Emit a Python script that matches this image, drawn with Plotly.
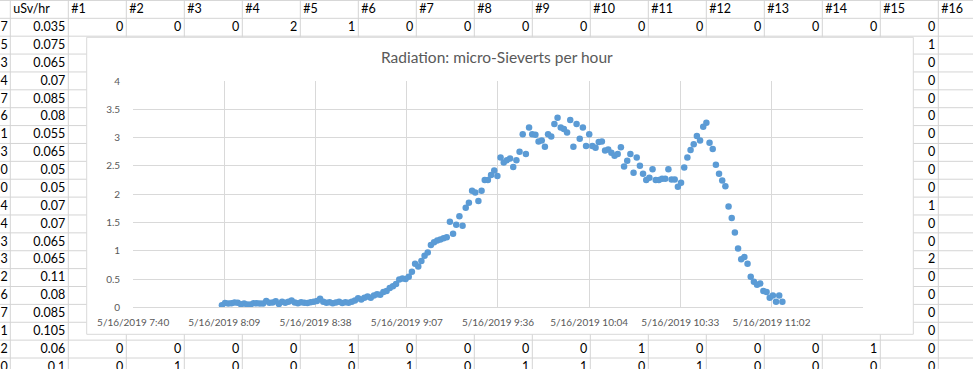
import plotly.graph_objects as go
import pandas as pd

# ---------------- chart data ----------------
usv_per_hour = [
    0.035, 0.075, 0.065, 0.07, 0.085, 0.08, 0.055, 0.065, 0.05, 0.05,
    0.07, 0.07, 0.065, 0.065, 0.11, 0.08, 0.085, 0.105, 0.06, 0.1,
    0.08, 0.1, 0.12, 0.085, 0.07, 0.09, 0.08, 0.075, 0.09, 0.1,
    0.11, 0.15, 0.1, 0.08, 0.09, 0.07, 0.085, 0.1, 0.075, 0.09,
    0.08, 0.1, 0.12, 0.16, 0.14, 0.17, 0.19, 0.17, 0.21, 0.23,
    0.22, 0.27, 0.29, 0.34, 0.37, 0.41, 0.49, 0.51, 0.5, 0.54, 0.63,
    0.77, 0.72, 0.82, 0.91, 0.97, 1.10, 1.15, 1.18, 1.20, 1.22,
    1.24, 1.51, 1.30, 1.46, 1.61, 1.44, 1.76, 1.85, 2.06, 2.03,
    1.88, 2.06, 2.25, 2.25, 2.34, 2.42, 2.32, 2.65, 2.56, 2.60,
    2.63, 2.48, 2.60, 2.75,
    3.06, 2.71, 3.18, 3.06, 3.05, 2.93, 2.95, 2.84, 3.06, 3.02,
    3.24, 3.35, 3.18, 3.15, 3.09, 3.31, 2.84, 3.24, 2.98, 3.18,
    2.85, 3.06, 2.85, 2.82, 2.92, 2.93, 2.77, 2.79, 2.73, 2.68,
    2.71, 2.83, 2.49, 2.59, 2.71, 2.38, 2.65, 2.50, 2.36, 2.25,
    2.29, 2.44, 2.25, 2.25, 2.27, 2.27, 2.44, 2.26, 2.26, 2.13,
    2.20, 2.47, 2.65, 2.78, 2.88, 3.03, 2.95, 3.19, 3.26, 2.91,
    2.80, 2.52, 2.36, 2.24, 2.14, 1.78, 1.58, 1.32, 1.04, 0.85,
    0.89, 0.77, 0.54, 0.45, 0.40, 0.42, 0.29, 0.27, 0.17, 0.21,
    0.10, 0.21, 0.10,
]
first_sample = "2019-05-16 08:08:50"
sample_times = pd.date_range(first_sample, periods=len(usv_per_hour), freq="60s")

x_tick_times = [
    "2019-05-16 07:40:48", "2019-05-16 08:09:36", "2019-05-16 08:38:24",
    "2019-05-16 09:07:12", "2019-05-16 09:36:00", "2019-05-16 10:04:48",
    "2019-05-16 10:33:36", "2019-05-16 11:02:24",
]
x_tick_labels = [
    "5/16/2019 7:40", "5/16/2019 8:09", "5/16/2019 8:38", "5/16/2019 9:07",
    "5/16/2019 9:36", "5/16/2019 10:04", "5/16/2019 10:33", "5/16/2019 11:02",
]
x_range = ["2019-05-16 07:40:47", "2019-05-16 11:31:12"]
y_range = [0, 4]
chart_title = "Radiation: micro-Sieverts per hour"

# ---------------- spreadsheet backdrop data ----------------
header_labels = ["uSv/hr"] + ["#%d" % i for i in range(1, 17)]
col_a_digits = ["7", "5", "3", "4", "7", "6", "1", "3", "0", "0",
                "4", "4", "3", "3", "2", "6", "7", "1", "2", "0"]
col_b_usv = [0.035, 0.075, 0.065, 0.07, 0.085, 0.08, 0.055, 0.065, 0.05, 0.05,
             0.07, 0.07, 0.065, 0.065, 0.11, 0.08, 0.085, 0.105, 0.06, 0.1]
first_row_counts = [0, 0, 0, 2, 1, 0, 0, 0, 0, 0, 0, 0, 0, 0, 0]          # #1..#15
col15_counts = [1, 0, 0, 0, 0, 0, 0, 0, 0, 1, 0, 0, 2, 0, 0, 0, 0, 0, 0]  # rows 2..20
row19_counts = [0, 0, 0, 0, 1, 0, 0, 0, 0, 1, 0, 0, 0, 1]                 # #1..#14
row20_counts = [0, 1, 0, 0, 0, 1, 0, 1, 1, 0, 1, 0, 0, 0]

# ---------------- geometry (pixels) ----------------
W, H = 973, 369
ROW_H = 17.88
ROW_LINE0 = 18.3
COL_W = 58.0
COL_LINE0 = 10.3
TEXT_Y0 = 27.9
GRID_COLOR = "#D4D4D4"
FONT = "Lato"

def col_left(c):   # c = 1 -> column B
    return COL_LINE0 + COL_W * (c - 1)

def row_y(r):      # r = -1 header row, 0 first data row
    return TEXT_Y0 + ROW_H * r

cx, cy, ct, cp = [], [], [], []

def add_cell(x, y, t, pos):
    cx.append(x); cy.append(y); ct.append(t); cp.append(pos)

for i, lab in enumerate(header_labels):
    add_cell(col_left(i + 1) + 3, row_y(-1), lab, "middle right")
for r, (d, v) in enumerate(zip(col_a_digits, col_b_usv)):
    add_cell(COL_LINE0 - 2.5, row_y(r), d, "middle left")
    add_cell(col_left(2) - 3, row_y(r), str(v), "middle left")
for i, v in enumerate(first_row_counts):
    add_cell(col_left(i + 3) - 3, row_y(0), str(v), "middle left")
for r, v in enumerate(col15_counts, start=1):
    add_cell(col_left(17) - 3, row_y(r), str(v), "middle left")
for r, vals in ((18, row19_counts), (19, row20_counts)):
    for i, v in enumerate(vals):
        add_cell(col_left(i + 3) - 3, row_y(r), str(v), "middle left")

fig = go.Figure()

fig.add_trace(go.Scatter(
    x=cx, y=cy, text=ct, textposition=cp, mode="text",
    textfont=dict(family=FONT, size=12.5, color="#000000"),
    hoverinfo="skip", showlegend=False, xaxis="x", yaxis="y", cliponaxis=False,
))

BOX = dict(x0=86.7, x1=913.3, y0=37.3, y1=334.3)
fig.add_trace(go.Scatter(
    x=[BOX["x0"], BOX["x1"], BOX["x1"], BOX["x0"], BOX["x0"]],
    y=[BOX["y0"], BOX["y0"], BOX["y1"], BOX["y1"], BOX["y0"]],
    mode="lines", fill="toself", fillcolor="#FFFFFF",
    line=dict(color="#D9D9D9", width=1),
    hoverinfo="skip", showlegend=False, xaxis="x", yaxis="y",
))

fig.add_trace(go.Scatter(
    x=sample_times, y=usv_per_hour, mode="markers",
    marker=dict(color="#5B9BD5", size=6.5, line=dict(color="#5B9BD5", width=0)),
    showlegend=False, xaxis="x2", yaxis="y2",
))

shapes = []
r = 0
while True:
    yl = ROW_LINE0 + ROW_H * (r - 1)
    if yl > H:
        break
    shapes.append(dict(type="line", xref="x", yref="y", x0=0, x1=W, y0=yl, y1=yl,
                       line=dict(color=GRID_COLOR, width=1), layer="below"))
    r += 1
for c in range(0, 17):
    xl = COL_LINE0 + COL_W * c
    shapes.append(dict(type="line", xref="x", yref="y", x0=xl, x1=xl, y0=0, y1=H,
                       line=dict(color=GRID_COLOR, width=1), layer="below"))

PLOT_L, PLOT_R, PLOT_T, PLOT_B = 133.1, 862.7, 81.0, 307.3
tick_font = dict(family=FONT, size=10, color="#595959")

fig.update_layout(
    template="none",
    width=W, height=H, autosize=False,
    margin=dict(l=0, r=0, t=0, b=0, pad=0),
    paper_bgcolor="#FFFFFF", plot_bgcolor="rgba(0,0,0,0)",
    shapes=shapes,
    xaxis=dict(domain=[0, 1], range=[0, W], visible=False, fixedrange=True,
               automargin=False),
    yaxis=dict(domain=[0, 1], range=[H, 0], visible=False, fixedrange=True,
               automargin=False),
    xaxis2=dict(
        domain=[PLOT_L / W, PLOT_R / W], anchor="y2", type="date", range=x_range,
        tickmode="array", tickvals=x_tick_times, ticktext=x_tick_labels,
        showgrid=True, gridcolor="#D9D9D9", gridwidth=1,
        showline=True, linecolor="#D9D9D9", linewidth=1,
        ticks="", tickfont=tick_font, ticklabelstandoff=6, zeroline=False,
        automargin=False, fixedrange=True,
    ),
    yaxis2=dict(
        domain=[1 - PLOT_B / H, 1 - PLOT_T / H], anchor="x2", range=y_range,
        tickmode="linear", tick0=0, dtick=0.5,
        showgrid=True, gridcolor="#D9D9D9", gridwidth=1,
        showline=False, zeroline=False,
        ticks="", tickfont=tick_font, ticklabelstandoff=12,
        automargin=False, fixedrange=True,
    ),
    annotations=[dict(
        text=chart_title, xref="paper", yref="paper",
        x=497.5 / W, y=1 - 57 / H, xanchor="center", yanchor="middle",
        showarrow=False, font=dict(family=FONT, size=15.5, color="#595959"),
    )],
)

fig.write_html("out.html", config={"displayModeBar": False},
               post_script="document.body.style.margin='0';")
